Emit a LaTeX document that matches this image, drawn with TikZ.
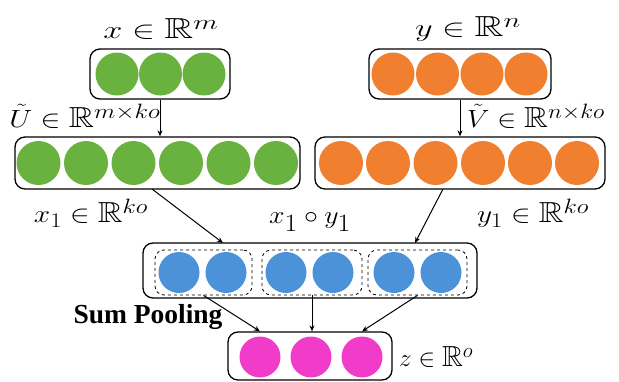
\documentclass[tikz,border=0pt]{standalone}
\usepackage{amssymb}
\usepackage{fontspec}
\newfontfamily\timesfont{Liberation Serif}
\usetikzlibrary{arrows.meta}
\definecolor{cgreen}{RGB}{106,178,64}
\definecolor{corange}{RGB}{240,128,48}
\definecolor{cblue}{RGB}{76,146,216}
\definecolor{cpink}{RGB}{240,60,200}
\newcommand{\wide}[2]{\scalebox{#1}[1]{#2}}
\begin{document}
\begin{tikzpicture}[x=1pt,y=-1pt,
  boxx/.style={draw, line width=1.3pt, rounded corners=10pt, rectangle, inner sep=0pt},
  dbox/.style={draw, dashed, line width=0.8pt, rounded corners=9pt, rectangle, inner sep=0pt, minimum height=45pt},
  unit/.style={circle, inner sep=0pt, minimum size=#1},
  unit/.default=43pt,
  lbl/.style={inner sep=0pt, font=\fontsize{29}{32}\selectfont},
  arr/.style={line width=1pt, -{Stealth[length=6pt,width=5pt]}}
]
\useasboundingbox (0,0) rectangle (619,381);
% top boxes
\node[boxx, minimum width=140pt, minimum height=50pt] (ltop) at (160,74) {};
\node[boxx, minimum width=182pt, minimum height=50pt] (rtop) at (460,74) {};
\foreach \i/\x in {1/117,2/160.5,3/204}
  \node[unit, fill=cgreen] (xa\i) at (\x,74) {};
\foreach \i/\x in {1/393,2/437.5,3/482,4/526}
  \node[unit, fill=corange] (ya\i) at (\x,74) {};
% middle rows
\node[boxx, minimum width=285pt, minimum height=52pt] (lmid) at (157.5,163) {};
\node[boxx, minimum width=290pt, minimum height=52pt] (rmid) at (460,163) {};
\foreach \i/\x in {1/38.5,2/86,3/133.5,4/181,5/228.5,6/276}
  \node[unit=44pt, fill=cgreen] (xb\i) at (\x,163) {};
\foreach \i/\x in {1/341,2/388,3/435.5,4/483,5/530,6/577}
  \node[unit=44pt, fill=corange] (yb\i) at (\x,163) {};
% product box
\node[boxx, minimum width=334pt, minimum height=55pt] (mid) at (310,270.5) {};
\node[dbox, minimum width=97pt] (d1) at (203.5,272.5) {};
\node[dbox, minimum width=100pt] (d2) at (312,272.5) {};
\node[dbox, minimum width=99pt] (d3) at (417.5,272.5) {};
\foreach \i/\x in {1/179,2/226,3/286,4/333,5/394,6/441}
  \node[unit=41pt, fill=cblue] (m\i) at (\x,272.5) {};
% output box
\node[boxx, minimum width=164pt, minimum height=48pt] (bot) at (310,356) {};
\foreach \i/\x in {1/260,2/311,3/362}
  \node[unit=41pt, fill=cpink] (b\i) at (\x,357) {};
% labels
\node[lbl] (lx) at (161,29) {\wide{1.38}{$x\in\mathbb{R}^m$}};
\node[lbl] (ly) at (468,29) {\wide{1.38}{$y\in\mathbb{R}^n$}};
\node[lbl] (lu) at (85,116) {\wide{1.2}{$\tilde U\in\mathbb{R}^{m\times ko}$}};
\node[lbl, anchor=west] (lv) at (467,116) {\wide{1.14}{$\tilde V\in\mathbb{R}^{n\times ko}$}};
\node[lbl] (lx1) at (91,213) {\wide{1.18}{$x_1\in\mathbb{R}^{ko}$}};
\node[lbl] (ly1) at (533,213) {\wide{1.18}{$y_1\in\mathbb{R}^{ko}$}};
\node[lbl, font=\fontsize{35}{40}\selectfont] (lxy) at (310,222) {\wide{1.12}{$x_1\circ y_1$}};
\node[lbl, font=\timesfont\bfseries\fontsize{27.5}{30}\selectfont] (lsp) at (148,317) {Sum Pooling};
\node[lbl, anchor=west] (lz) at (399,357) {$z\in\mathbb{R}^o$};
% connectors
\coordinate (la) at (152,189);
\coordinate (lb) at (223,243);
\coordinate (ra) at (443,189);
\coordinate (rb) at (415,243);
\draw[arr] (ltop.south) -- (ltop.south |- lmid.north);
\draw[arr] (rtop.south) -- (rtop.south |- rmid.north);
\draw[arr] (la) -- (lb);
\draw[arr] (ra) -- (rb);
\draw[arr] (d1.south) -- (b1 |- bot.north);
\draw[arr] (d2.south) -- (d2.south |- bot.north);
\draw[arr] (d3.south) -- (b3 |- bot.north);
\end{tikzpicture}
\end{document}
